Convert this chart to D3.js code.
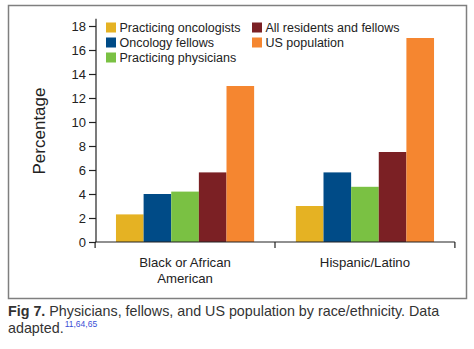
<!DOCTYPE html>
<html>
<head>
<meta charset="utf-8">
<script src="https://cdn.jsdelivr.net/npm/d3@7"></script>
<style>
  body { margin: 0; background: #fff; }
  text { font-family: "Liberation Sans", Arial, Helvetica, sans-serif; }
</style>
</head>
<body>
<div id="chart"></div>
<script>
var categories = [["Black or African", "American"], ["Hispanic/Latino"]];
var series = ["Practicing oncologists", "Oncology fellows", "Practicing physicians", "All residents and fellows", "US population"];
var colors = ["#e5b223", "#004b87", "#7ac143", "#7b2024", "#f58630"];
var values = [
  [2.3, 3.0],   // Practicing oncologists
  [4.0, 5.8],   // Oncology fellows
  [4.2, 4.6],   // Practicing physicians
  [5.8, 7.5],   // All residents and fellows
  [13, 17]      // US population
];
var yTicks = [0, 2, 4, 6, 8, 10, 12, 14, 16, 18];

var w = 474, h = 349;

var svg = d3.select("#chart").append("svg")
  .attr("width", w)
  .attr("height", h);

// frame
svg.append("rect")
  .attr("x", 8.5).attr("y", 5.5)
  .attr("width", 458).attr("height", 293)
  .attr("fill", "none")
  .attr("stroke", "#7f7f7f")
  .attr("stroke-width", 1.5);

var x0 = d3.scaleBand()
  .domain(d3.range(categories.length))
  .range([96, 454])
  .paddingInner(0.232)
  .paddingOuter(0.111);

var x1 = d3.scaleBand()
  .domain(d3.range(series.length))
  .range([0, x0.bandwidth()]);

var y = d3.scaleLinear().domain([0, 18]).range([242, 26]);

// bars
var groups = svg.selectAll("g.grp")
  .data(categories)
  .enter().append("g")
  .attr("class", "grp")
  .attr("transform", (_, i) => `translate(${x0(i)},0)`);

groups.selectAll("rect")
  .data((_, ci) => series.map((s, si) => ({ si: si, v: values[si][ci] })))
  .enter().append("rect")
  .attr("x", d => x1(d.si))
  .attr("width", x1.bandwidth())
  .attr("y", d => y(d.v))
  .attr("height", d => y(0) - y(d.v))
  .attr("fill", d => colors[d.si]);

// y axis
var yAxis = svg.append("g")
  .attr("transform", "translate(96,0)")
  .call(d3.axisLeft(y).tickValues(yTicks).tickSize(7).tickPadding(3));
yAxis.select(".domain").remove();
yAxis.selectAll("line").attr("stroke", "#222").attr("stroke-width", 1.2);
yAxis.selectAll("text").attr("font-size", 13).attr("fill", "#222")
  .style("font-family", "'Liberation Sans', Arial, sans-serif");
svg.append("line")
  .attr("x1", 96).attr("x2", 96)
  .attr("y1", y(18.6)).attr("y2", y(0))
  .attr("stroke", "#222").attr("stroke-width", 1.2);

// x axis
var step = x0.step();
var gap = step * x0.paddingInner() / 2;
var bounds = [x0(0) - gap].concat(d3.range(categories.length).map(i => x0(i) + x0.bandwidth() + gap));
svg.append("line")
  .attr("x1", bounds[0]).attr("x2", bounds[bounds.length - 1])
  .attr("y1", y(0)).attr("y2", y(0))
  .attr("stroke", "#222").attr("stroke-width", 1.2);
svg.selectAll("line.xtick")
  .data(bounds)
  .enter().append("line")
  .attr("class", "xtick")
  .attr("x1", d => d).attr("x2", d => d)
  .attr("y1", y(0)).attr("y2", y(0) + 6)
  .attr("stroke", "#222").attr("stroke-width", 1.2);

var catText = svg.selectAll("text.cat")
  .data(categories)
  .enter().append("text")
  .attr("class", "cat")
  .attr("text-anchor", "middle")
  .attr("font-size", 13.2)
  .attr("fill", "#222")
  .attr("transform", (_, i) => `translate(${x0(i) + x0.bandwidth() / 2},266.5)`);
catText.selectAll("tspan")
  .data(d => d)
  .enter().append("tspan")
  .attr("x", 0)
  .attr("dy", (_, i) => i ? 16 : 0)
  .text(d => d);

// y label
svg.append("text")
  .attr("transform", "translate(45,131) rotate(-90)")
  .attr("text-anchor", "middle")
  .attr("font-size", 17)
  .attr("fill", "#222")
  .text("Percentage");

// legend
var legendPos = [[106, 27.5], [106, 42.5], [106, 57.5], [252, 27.5], [252, 42.5]];
var legend = svg.selectAll("g.leg")
  .data(series)
  .enter().append("g")
  .attr("class", "leg")
  .attr("transform", (_, i) => `translate(${legendPos[i][0]},${legendPos[i][1]})`);
legend.append("rect")
  .attr("x", 0).attr("y", -5)
  .attr("width", 10).attr("height", 10)
  .attr("fill", (_, i) => colors[i]);
legend.append("text")
  .attr("x", 13.5).attr("y", 4.5)
  .attr("font-size", 12.5)
  .attr("fill", "#222")
  .text(d => d);

// caption
var cap = svg.append("text")
  .attr("x", 8).attr("y", 315.5)
  .attr("font-size", 14.3)
  .attr("fill", "#333");
cap.append("tspan").attr("font-weight", "bold").text("Fig 7.");
cap.append("tspan").text(" Physicians, fellows, and US population by race/ethnicity. Data");
var cap2 = svg.append("text")
  .attr("x", 8).attr("y", 333)
  .attr("font-size", 14.3)
  .attr("fill", "#333");
cap2.append("tspan").text("adapted.");
cap2.append("tspan").attr("font-size", 8.5).attr("dy", -6).attr("dx", 1).attr("fill", "#3a4fd6").text("11,64,65");
</script>
</body>
</html>
